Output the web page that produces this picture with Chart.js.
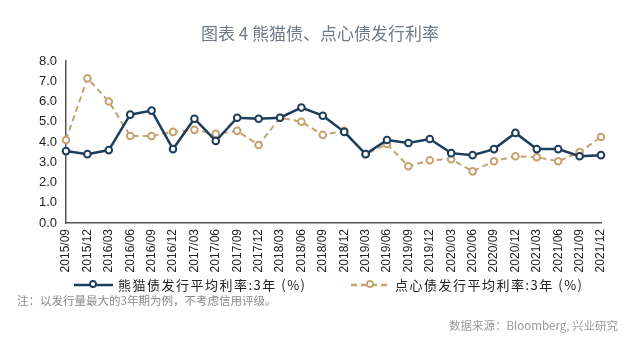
<!DOCTYPE html>
<html>
<head>
<meta charset="utf-8">
<script src="https://cdn.jsdelivr.net/npm/chart.js@4/dist/chart.umd.min.js"></script>
<style>
  body { margin: 0; background: #fff; }
  #wrap { position: relative; width: 640px; height: 338px; }
  #wrap canvas { position: absolute; left: 0; top: 0; }
  .txt { position: absolute; font-family: "Noto Sans CJK SC", sans-serif; white-space: nowrap; }
  #title { top: 20px; left: 0; width: 640px; text-align: center; font-size: 17px; color: #6e7b88; }
  #note { top: 292px; left: 17px; font-size: 11.5px; color: #8a8a8a; }
  #src { top: 317px; right: 22px; font-size: 11.5px; color: #9a9a9a; }
</style>
</head>
<body>
<div id="wrap">
  <canvas id="myChart" width="640" height="338"></canvas>
  <div id="title" class="txt">图表 4 熊猫债、点心债发行利率</div>
  <div id="note" class="txt">注：以发行量最大的3年期为例，不考虑信用评级。</div>
  <div id="src" class="txt">数据来源：Bloomberg, 兴业研究</div>
</div>
<script>
const quarters = [
  "2015/09", "2015/12", "2016/03", "2016/06", "2016/09", "2016/12",
  "2017/03", "2017/06", "2017/09", "2017/12", "2018/03", "2018/06",
  "2018/09", "2018/12", "2019/03", "2019/06", "2019/09", "2019/12",
  "2020/03", "2020/06", "2020/09", "2020/12", "2021/03", "2021/06",
  "2021/09", "2021/12",
];

// 熊猫债 3 year average issue rate (%)
const pandaRate = [
  3.55, 3.4, 3.6, 5.35, 5.55, 3.65, 5.15, 4.05, 5.2, 5.15, 5.2, 5.7, 5.3,
  4.5, 3.4, 4.1, 3.95, 4.15, 3.45, 3.35, 3.65, 4.45, 3.65, 3.65, 3.3, 3.35,
];

// 点心债 3 year average issue rate (%)
const dimSumRate = [
  4.1, 7.15, 6.0, 4.3, 4.3, 4.5, 4.6, 4.4, 4.55, 3.85, 5.2, 5.0, 4.35,
  4.55, 3.4, 3.9, 2.8, 3.1, 3.15, 2.55, 3.05, 3.3, 3.25, 3.05, 3.5, 4.25,
];

const seriesNames = ["熊猫债发行平均利率:3年 (%)", "点心债发行平均利率:3年 (%)"];
const navy = "#1d3d5c";
const gold = "#c4a36f";

// legend drawn under the axis: line sample with a circle marker, then the name
const legendPlugin = {
  id: "lineLegend",
  afterDraw(chart) {
    const ctx = chart.ctx;
    const y = 285;
    const items = [
      { x: 74, ds: chart.data.datasets[0] },
      { x: 351, ds: chart.data.datasets[1] },
    ];
    items.forEach((it) => {
      ctx.save();
      ctx.strokeStyle = it.ds.borderColor;
      ctx.lineWidth = 2.5;
      ctx.setLineDash(it.ds.borderDash || []);
      ctx.beginPath();
      ctx.moveTo(it.x, y);
      ctx.lineTo(it.x + 39, y);
      ctx.stroke();
      ctx.setLineDash([]);
      ctx.lineWidth = 1.8;
      ctx.fillStyle = "#fff";
      ctx.beginPath();
      ctx.arc(it.x + 19, y - 1, 3, 0, Math.PI * 2);
      ctx.fill();
      ctx.stroke();
      ctx.fillStyle = "#222";
      ctx.font = '13px "Noto Sans CJK SC"';
      ctx.textBaseline = "middle";
      ctx.letterSpacing = "1.5px";
      ctx.fillText(it.ds.label, it.x + 44, y);
      ctx.restore();
    });
  },
};

const cxx = document.getElementById("myChart").getContext("2d");
new Chart(cxx, {
  type: "line",
  data: {
    labels: quarters,
    datasets: [
      {
        label: seriesNames[0],
        data: pandaRate,
        borderColor: navy,
        borderWidth: 2.5,
        pointRadius: 3.3,
        pointBorderWidth: 2,
        pointBackgroundColor: "#fff",
        pointBorderColor: navy,
        tension: 0,
      },
      {
        label: seriesNames[1],
        data: dimSumRate,
        borderColor: gold,
        borderWidth: 2,
        borderDash: [6, 4],
        pointRadius: 3.3,
        pointBorderWidth: 2,
        pointBackgroundColor: "#fff",
        pointBorderColor: gold,
        tension: 0,
      },
    ],
  },
  options: {
    responsive: false,
    animation: false,
    layout: { padding: { top: 61, right: 39, left: 0, bottom: 0 } },
    plugins: { legend: { display: false }, tooltip: { enabled: false } },
    scales: {
      x: {
        offset: false,
        grid: { display: false, drawTicks: true, tickLength: 4, tickColor: "#555", tickWidth: 1.5 },
        border: { color: "#555", width: 1.5 },
        ticks: {
          autoSkip: false,
          minRotation: 90,
          maxRotation: 90,
          color: "#222",
          font: { family: "Liberation Sans", size: 12 },
          padding: 2,
        },
        afterFit(scale) { scale.height = 115; },
      },
      y: {
        min: 0,
        max: 8,
        grid: { display: false, drawTicks: true, tickLength: 5, tickColor: "#555", tickWidth: 1.5 },
        border: { color: "#555", width: 1.5 },
        ticks: {
          stepSize: 1,
          color: "#222",
          font: { family: "Liberation Sans", size: 13 },
          padding: 4,
          callback: (v) => v.toFixed(1),
        },
        afterFit(scale) { scale.width = 66; },
      },
    },
  },
  plugins: [legendPlugin],
});
</script>
</body>
</html>
